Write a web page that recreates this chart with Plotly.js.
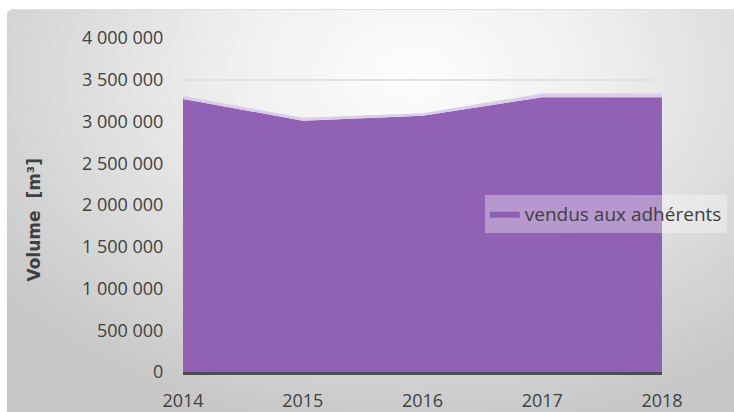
<!DOCTYPE html>
<html>
<head>
<meta charset="utf-8">
<script src="https://cdn.plot.ly/plotly-3.0.1.min.js"></script>
<style>
  html, body { margin: 0; padding: 0; background: #ffffff; }
  #wrap { position: relative; width: 734px; height: 412px; overflow: hidden; }
  #panel {
    position: absolute; left: 7px; top: 9px; width: 740px; height: 420px;
    border-radius: 6px;
    border-top: 1px solid #e0e0e0;
    background: radial-gradient(ellipse 72% 88% at 55% 15%, #fdfdfd 0%, #f0f0f0 33%, #dadada 68%, #c6c6c6 100%);
  }
  #chart { position: absolute; left: 0; top: 0; width: 734px; height: 412px; }
</style>
</head>
<body>
<div id="wrap">
  <div id="panel"></div>
  <div id="chart"></div>
</div>
<script>
// Data
var years = [2014, 2015, 2016, 2017, 2018];
var vendusAdherents = [3270000, 3010000, 3070000, 3290000, 3290000];
var autreSerie = [35000, 35000, 30000, 45000, 45000];
var yTickValues = [0, 500000, 1000000, 1500000, 2000000, 2500000, 3000000, 3500000, 4000000];
var seriesName = 'vendus aux adhérents';
var yTitle = 'Volume  [m³]';

var fontFam = '"Open Sans", "Liberation Sans", sans-serif';

var traces = [
  {
    x: years, y: vendusAdherents, name: seriesName,
    type: 'scatter', mode: 'lines', stackgroup: 'one',
    fillcolor: 'rgba(140,92,178,0.97)',
    line: { width: 0, color: '#8c5cb2' },
    hoverinfo: 'skip'
  },
  {
    x: years, y: autreSerie, name: 'autre',
    type: 'scatter', mode: 'lines', stackgroup: 'one',
    fillcolor: '#dccbe9',
    line: { width: 0, color: '#dccbe9' },
    showlegend: false, hoverinfo: 'skip'
  }
];

var layout = {
  width: 734, height: 412,
  margin: { l: 183, r: 72, t: 38, b: 40, autoexpand: false },
  paper_bgcolor: 'rgba(0,0,0,0)',
  plot_bgcolor: 'rgba(0,0,0,0)',
  separators: ', ',
  showlegend: true,
  font: { family: fontFam, size: 17, color: '#404040' },
  xaxis: {
    type: 'linear', range: [2014, 2018], tickvals: years,
    ticktext: years.map(String),
    showgrid: false, zeroline: false,
    showline: true, linecolor: '#4e4e4e', linewidth: 3,
    ticks: 'outside', ticklen: 10, tickcolor: 'rgba(0,0,0,0)',
    tickfont: { family: fontFam, size: 18, color: '#404040' },
    automargin: false
  },
  yaxis: {
    range: [0, 4000000], tickvals: yTickValues, tickformat: ',d',
    showgrid: true, gridcolor: '#e2e2e2', gridwidth: 2,
    zeroline: false, showline: false,
    ticks: 'outside', ticklen: 15, tickcolor: 'rgba(0,0,0,0)',
    tickfont: { family: fontFam, size: 18, color: '#404040' },
    automargin: false
  },
  legend: {
    x: 0.63, xanchor: 'left', y: 0.473, yanchor: 'middle',
    bgcolor: 'rgba(255,255,255,0.35)',
    font: { family: fontFam, size: 19, color: '#404040' },
    itemwidth: 30
  },
  annotations: [
    {
      text: '<b>' + yTitle + '</b>',
      xref: 'paper', yref: 'paper', x: -0.31, y: 0.455,
      xanchor: 'center', yanchor: 'middle', textangle: -90,
      showarrow: false,
      font: { family: '"DejaVu Sans", "Liberation Sans", sans-serif', size: 17, color: '#404040' }
    }
  ]
};

Plotly.newPlot('chart', traces, layout, { displayModeBar: false, staticPlot: true });
</script>
</body>
</html>
